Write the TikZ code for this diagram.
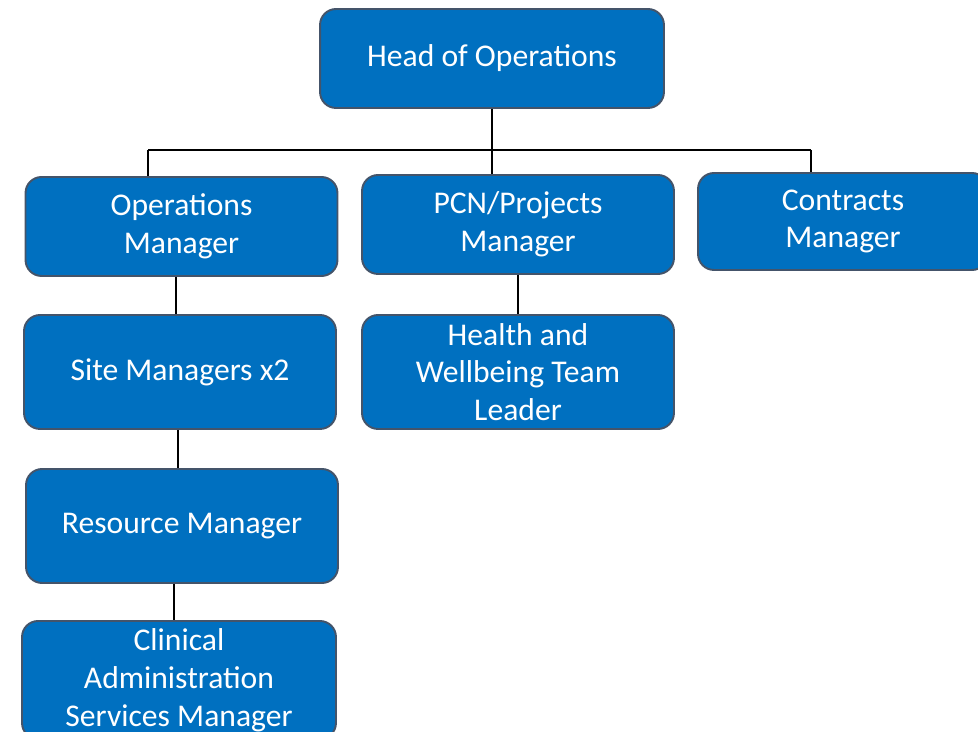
\documentclass[tikz,border=0pt]{standalone}
\usepackage{fontspec}
\setmainfont{Carlito}
\usepackage{xcolor}
\usepackage{tikz}
\usetikzlibrary{positioning}

\definecolor{roleblue}{HTML}{0070C0}
\definecolor{roleedge}{HTML}{44546A}

\begin{document}
\begin{tikzpicture}[
    x=0.02cm, y=-0.02cm,
    role/.style={rectangle, rounded corners=0.32cm, draw=roleedge, line width=1.1pt, fill=roleblue, text=white, align=center, inner sep=0pt, font=\fontsize{18}{21.5}\selectfont},
    short/.style={role, minimum width=6.24cm, minimum height=1.98cm},
    tall/.style={role, minimum width=6.24cm, minimum height=2.28cm},
    link/.style={draw=black, line width=1pt}
]
    \path[use as bounding box] (0,0) rectangle (978,732);
    \clip (0,0) rectangle (978,732);

    % Top of the chart
    \node[short, minimum width=6.88cm] (head) at (492,58.5) {Head of Operations};

    % Second row
    \node[short] (opsman) at (181.5,226.5) {Operations\\Manager};
    \node[short] (pcnman) at (518,224.5) {PCN/Projects\\Manager};
    \node[short, minimum width=5.8cm, minimum height=1.94cm] (contracts) at (843,221.5) {Contracts\\Manager};

    % Lower rows
    \node[tall] (sites) at (180,372) {Site Managers x2};
    \node[tall] (health) at (518,372) {Health and\\Wellbeing Team\\Leader};
    \node[tall] (resource) at (182,526) {Resource Manager};
    \node[tall, minimum width=6.28cm, minimum height=2.36cm] (clinical) at (179,680) {Clinical\\Administration\\Services Manager};

    % Branch bar under the head
    \coordinate (bar) at (492,150);
    \coordinate (barL) at (148,150);
    \coordinate (barR) at (811,150);
    \draw[link] (head.south) -- (bar);
    \draw[link] (barL) -- (barR);
    \draw[link] (barL) -- (barL |- opsman.north);
    \draw[link] (bar) -- (bar |- pcnman.north);
    \draw[link] (barR) -- (barR |- contracts.north);

    % Vertical links
    \draw[link] (176,0 |- opsman.south) -- (176,0 |- sites.north);
    \draw[link] (178,0 |- sites.south) -- (178,0 |- resource.north);
    \draw[link] (174,0 |- resource.south) -- (174,0 |- clinical.north);
    \draw[link] (pcnman.south) -- (health.north);
\end{tikzpicture}
\end{document}
